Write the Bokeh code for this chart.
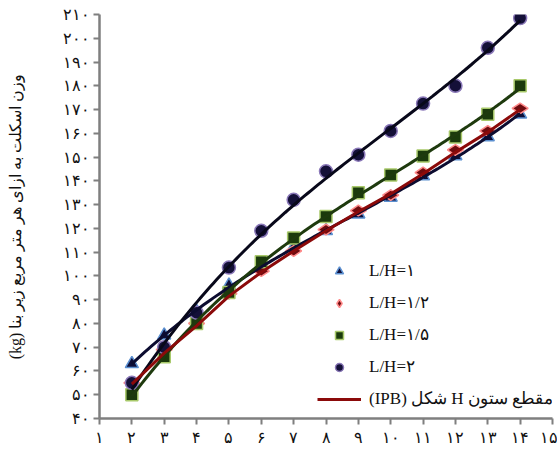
import numpy as np
from bokeh.plotting import figure
from bokeh.models import Range1d, FixedTicker, Legend, LegendItem
from bokeh.embed import file_html
from bokeh.resources import INLINE

# ---- data ----
x_vals = [2, 3, 4, 5, 6, 7, 8, 9, 10, 11, 12, 13, 14]
lh_1 = [63, 75, 85, 96, 104, 112, 119, 126, 133, 142, 150.5, 158.5, 168]
lh_12 = [55, 69, 80, 92.5, 102, 110.5, 119.5, 127.5, 134, 143.5, 153, 161, 170.5]
lh_15 = [50, 66, 80, 93, 106, 116, 125, 135, 142.5, 150.5, 158.5, 168, 180]
lh_2 = [55, 70, 84.5, 103.5, 119, 132, 144, 151, 161, 172.5, 180, 196, 208.5]
ipb = [54.5, 67.5, 79, 91.5, 101.5, 110.5, 119, 127, 134.5, 143, 152, 160.5, 170]

series_names = ["L/H=۱", "L/H=۱/۲", "L/H=۱/۵", "L/H=۲"]
ipb_name = "\u202bمقطع ستون H شکل (IPB)\u202c"
y_axis_title = "\u202bوزن اسکلت به ازای هر متر مربع زیر بنا (kg)\u202c"

x_ticks = list(range(1, 16))
x_tick_labels = ["۱", "۲", "۳", "۴", "۵", "۶", "۷", "۸", "۹", "۱۰", "۱۱", "۱۲", "۱۳", "۱۴", "۱۵"]
y_ticks = list(range(40, 211, 10))
y_tick_labels = ["۴۰", "۵۰", "۶۰", "۷۰", "۸۰", "۹۰", "۱۰۰", "۱۱۰", "۱۲۰", "۱۳۰",
                 "۱۴۰", "۱۵۰", "۱۶۰", "۱۷۰", "۱۸۰", "۱۹۰", "۲۰۰", "۲۱۰"]

SERIF = "Liberation Serif"

p = figure(width=557, height=450, x_range=Range1d(1, 15), y_range=Range1d(40, 210),
           output_backend="svg", toolbar_location=None,
           min_border_left=99, min_border_right=5, min_border_top=14, min_border_bottom=32)
p.xgrid.visible = False
p.ygrid.visible = False
p.outline_line_color = None
p.background_fill_color = "white"

for ax in (p.xaxis[0], p.yaxis[0]):
    ax.axis_line_color = "#7f7f7f"
    ax.axis_line_width = 2.5
    ax.major_tick_line_color = "#7f7f7f"
    ax.major_tick_line_width = 2
    ax.major_tick_in = 0
    ax.major_tick_out = 6
    ax.minor_tick_line_color = None
    ax.major_label_text_font = SERIF
    ax.major_label_text_font_size = "16px"
    ax.major_label_text_color = "#111111"

p.xaxis.ticker = FixedTicker(ticks=x_ticks)
p.xaxis.major_label_overrides = dict(zip(x_ticks, x_tick_labels))
p.xaxis.major_label_standoff = 4
p.yaxis.ticker = FixedTicker(ticks=y_ticks)
p.yaxis.major_label_overrides = dict(zip(y_ticks, y_tick_labels))
p.yaxis.major_label_standoff = 4
p.yaxis.axis_label = y_axis_title
p.yaxis.axis_label_text_font = SERIF
p.yaxis.axis_label_text_font_style = "normal"
p.yaxis.axis_label_text_font_size = "16px"
p.yaxis.axis_label_text_color = "#111111"
p.yaxis.axis_label_standoff = 36

# markers
r1 = p.scatter(x_vals, lh_1, marker="triangle", size=13, fill_color="#0e0e38",
               line_color="#5b8fd0", line_width=1.5)
r2 = p.scatter(x_vals, lh_12, marker="diamond", size=16, angle=np.pi / 2,
               fill_color="#6e0c10", line_color="#ff8a8a", line_width=1.5)
r3 = p.scatter(x_vals, lh_15, marker="square", size=12, fill_color="#1b3a0c",
               line_color="#a8c96a", line_width=1.5)
r4 = p.scatter(x_vals, lh_2, marker="circle", size=13, fill_color="#141038",
               line_color="#8a78b8", line_width=1.5)

# trend lines (fitted to the plotted points)
xf = np.linspace(2, 14, 120)
for ys, col in ((lh_1, "#0c0c30"), (lh_15, "#1e3a0e"), (lh_2, "#08081a")):
    coef = np.polyfit(x_vals, ys, 3)
    p.line(xf, np.polyval(coef, xf), line_color=col, line_width=3)
r5 = p.line(x_vals, ipb, line_color="#8b0a0a", line_width=3)

legend = Legend(items=[LegendItem(label=series_names[0], renderers=[r1]),
                       LegendItem(label=series_names[1], renderers=[r2]),
                       LegendItem(label=series_names[2], renderers=[r3]),
                       LegendItem(label=series_names[3], renderers=[r4]),
                       LegendItem(label=ipb_name, renderers=[r5])],
                location=(218, 9))
legend.border_line_color = None
legend.background_fill_alpha = 0
legend.glyph_width = 44
legend.glyph_height = 20
legend.label_height = 20
legend.spacing = 11
legend.padding = 0
legend.margin = 0
legend.label_standoff = 8
legend.label_text_font = SERIF
legend.label_text_font_size = "17px"
legend.label_text_color = "#111111"
p.add_layout(legend)

open("out.html", "w").write(file_html(p, INLINE))
